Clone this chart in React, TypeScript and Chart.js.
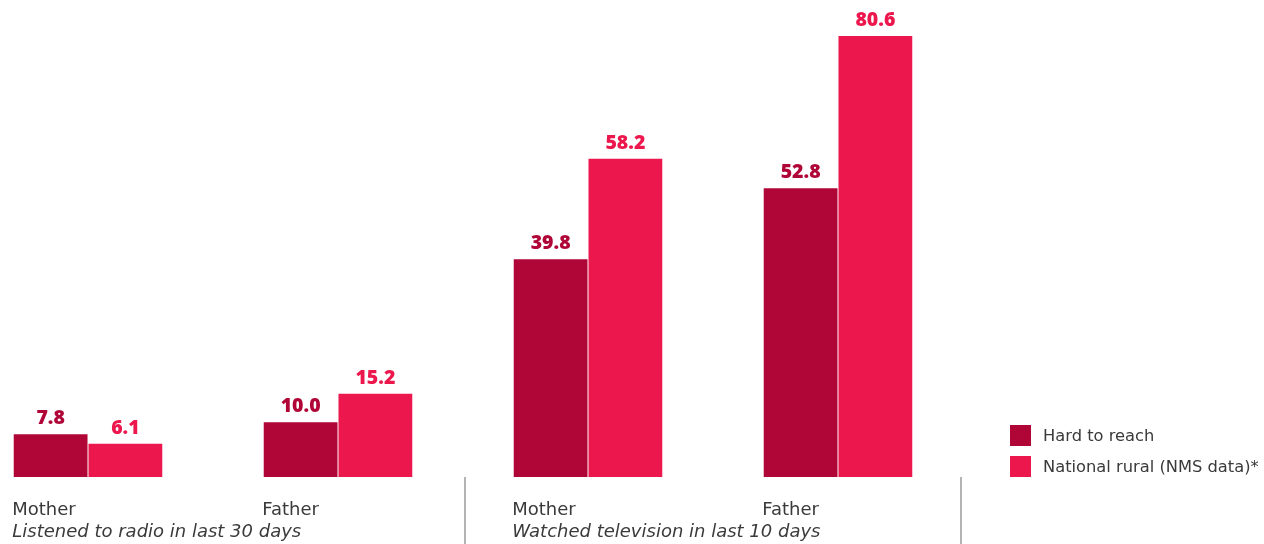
import React, { useEffect, useRef } from "react";
import { Chart, registerables } from "chart.js";

Chart.register(...registerables);

const categories = ["Mother", "Father", "Mother", "Father"];
const groupLabels = ["Listened to radio in last 30 days", "Watched television in last 10 days"];
const seriesNames = ["Hard to reach", "National rural (NMS data)*"];
const hardToReach = [7.8, 10.0, 39.8, 52.8];
const nationalRural = [6.1, 15.2, 58.2, 80.6];
const seriesColors = ["#b00537", "#ec174c"];

const LABEL_FONT = '18px "DejaVu Sans", sans-serif';
const VALUE_FONT = '800 19.5px "Open Sans", sans-serif';

const overlayPlugin = {
  id: "overlay",
  afterDatasetsDraw(chart: any) {
    const ctx = chart.ctx;
    ctx.save();
    // value labels
    chart.data.datasets.forEach((ds: any, di: number) => {
      const meta = chart.getDatasetMeta(di);
      ctx.font = VALUE_FONT;
      ctx.fillStyle = ds.backgroundColor;
      ctx.textAlign = "center";
      ctx.textBaseline = "alphabetic";
      meta.data.forEach((bar: any, i: number) => {
        ctx.fillText(Number(ds.data[i]).toFixed(1), bar.x, bar.y - 10);
      });
    });
    // category labels
    const meta0 = chart.getDatasetMeta(0);
    const xScale = chart.scales.x;
    const baseY = chart.scales.y.getPixelForValue(0);
    ctx.fillStyle = "#3a3a3a";
    ctx.textAlign = "left";
    meta0.data.forEach((bar: any, i: number) => {
      const left = bar.x - bar.width / 2 - 1.5;
      ctx.font = LABEL_FONT;
      ctx.fillText(categories[i], left, baseY + 38);
      if (i % 2 === 0) {
        ctx.font = "italic " + LABEL_FONT;
        ctx.fillText(groupLabels[i / 2], left, baseY + 60);
      }
    });
    // separators
    const step = xScale.getPixelForValue(1) - xScale.getPixelForValue(0);
    ctx.strokeStyle = "#b4b4b4";
    ctx.lineWidth = 2;
    [1, 3].forEach((i) => {
      const x = xScale.getPixelForValue(i) + (i === 1 ? step / 2 + 2 : step / 2 - 2);
      ctx.beginPath();
      ctx.moveTo(x, baseY);
      ctx.lineTo(x, chart.height);
      ctx.stroke();
    });
    // legend
    ctx.font = '16.3px "DejaVu Sans", sans-serif';
    ctx.textBaseline = "middle";
    chart.data.datasets.forEach((ds: any, di: number) => {
      const y = 425 + di * 31;
      ctx.fillStyle = ds.backgroundColor;
      ctx.fillRect(1010, y, 21, 21);
      ctx.fillStyle = "#3a3a3a";
      ctx.fillText(ds.label, 1043, y + 11.5);
    });
    ctx.restore();
  },
};

export default function App() {
  const ref = useRef<HTMLCanvasElement>(null);
  useEffect(() => {
    document.body.style.margin = "0";
    const chart = new Chart(ref.current as HTMLCanvasElement, {
      type: "bar",
      data: {
        labels: categories,
        datasets: [
          {
            label: seriesNames[0],
            data: hardToReach,
            backgroundColor: seriesColors[0],
            barPercentage: 0.987,
            categoryPercentage: 0.598,
            clip: false,
          } as any,
          {
            label: seriesNames[1],
            data: nationalRural,
            backgroundColor: seriesColors[1],
            barPercentage: 0.987,
            categoryPercentage: 0.598,
            clip: false,
          } as any,
        ],
      },
      options: {
        animation: false,
        responsive: true,
        maintainAspectRatio: false,
        layout: { padding: { left: 88, right: 426, top: 0, bottom: 67 } },
        plugins: { legend: { display: false }, tooltip: { enabled: false } },
        scales: {
          x: { display: false, offset: false, grid: { display: false } },
          y: { display: false, min: 0, max: 87.2 },
        },
      },
      plugins: [overlayPlugin],
    });
    return () => chart.destroy();
  }, []);
  return (
    <div style={{ position: "fixed", left: 0, top: 0, width: 1264, height: 544 }}>
      <canvas ref={ref} />
    </div>
  );
}
